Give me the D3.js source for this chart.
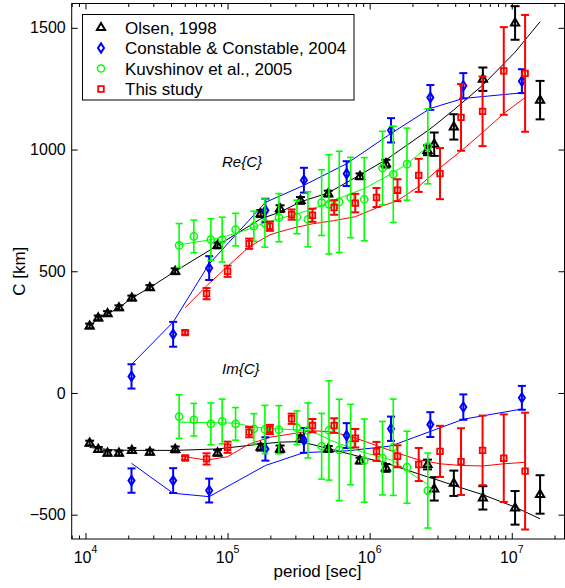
<!DOCTYPE html>
<html>
<head>
<meta charset="utf-8">
<script src="https://cdn.jsdelivr.net/npm/d3@7"></script>
<style>
  body { margin: 0; background: #fff; }
  svg { display: block; font-family: "Liberation Sans", Arial, Helvetica, sans-serif; }
</style>
</head>
<body>
<svg id="chart" width="565" height="588"></svg>
<script>
// ─── Data ───────────────────────────────────────────────────────────────────
// Olsen, 1998
const olsenPeriod = [10700, 12300, 14300, 17200, 21200, 28400, 42800, 85000, 171000, 234000,
  326000, 511000, 855000, 1302000, 2553000, 2846000, 3911000, 6259000, 10550000, 15820000];
const olsenRe = [275, 308, 326, 350, 390, 433, 500, 606, 737, 757, 791, 819, 890, 942, 997, 1022, 1093, 1289, 1520, 1203];
const olsenIm = [-206, -232, -247, -247, -236, -243, -232, -246, -223, -230, -188, -230, -278, -308, -294, -394, -371, -431, -472, -417];
const olsenErr = [10, 10, 10, 10, 10, 10, 12, 12, 14, 14, 14, 12, 12, 16, 20, 48, 52, 48, 69, 79];
const olsenModelRe = [275, 305, 325, 350, 390, 433, 500, 606, 715, 743, 785, 822, 896, 958, 1077, 1098, 1163, 1265, 1400, 1525];
const olsenModelIm = [-224, -228, -232, -235, -236, -236, -236, -230, -210, -202, -200, -228, -262, -288, -345, -353, -380, -418, -469, -517];

// Constable & Constable, 2004
const constPeriod = [21080, 41400, 74220, 184600, 344600, 688700, 1413000, 2672000, 4562000, 11780000];
const constRe = [68, 241, 513, 750, 874, 901, 1079, 1214, 1262, 1281];
const constIm = [-360, -360, -401, -230, -195, -175, -147, -130, -58, -20];
const constErr = [50, 51, 49, 48, 51, 51, 50, 51, 52, 49];
const constModelRe = [117, 291, 530, 783, 853, 942, 1066, 1169, 1210, 1233];
const constModelIm = [-289, -412, -426, -298, -245, -238, -218, -158, -108, -66];

// Kuvshinov et al., 2005
const kuvPeriod = [45620, 57900, 76280, 91620, 113900, 153200, 183100, 229800, 307600, 367700,
  459200, 517000, 610800, 734900, 916200, 1231000, 1466000, 1831000, 2566000];
const kuvRe = [606, 643, 630, 630, 671, 685, 698, 720, 723, 713, 782, 775, 785, 803, 796, 924, 898, 940, 1013];
const kuvIm = [-97, -110, -127, -117, -127, -147, -150, -151, -143, -154, -219, -154, -234, -212, -278, -268, -223, -305, -401];
const kuvErr = [90, 67, 86, 92, 67, 62, 99, 99, 69, 113, 135, 204, 208, 165, 171, 151, 198, 148, 154];
const kuvModelRe = [609, 618, 630, 640, 655, 680, 700, 716, 735, 750, 770, 785, 800, 818, 840, 880, 905, 940, 1013];
const kuvModelIm = [-120, -121, -122, -123, -124, -140, -145, -148, -152, -154, -175, -192, -208, -225, -245, -265, -278, -320, -376];

// This study
const thisPeriod = [50300, 71140, 100000, 141700, 198600, 282300, 395700, 562300, 791800, 1117000,
  1570000, 2214000, 3127000, 4395000, 6229000, 8785000, 12410000];
const thisRe = [248, 408, 500, 613, 685, 733, 730, 762, 780, 803, 833, 894, 901, 1132, 1157, 1323, 1313];
const thisIm = [-267, -271, -223, -161, -150, -106, -134, -134, -186, -240, -260, -294, -240, -282, -236, -268, -321];
const thisErr = [8, 23, 23, 21, 19, 21, 27, 30, 38, 39, 45, 68, 105, 137, 143, 180, 240];
const thisModelRe = [350, 440, 520, 600, 650, 676, 695, 708, 724, 760, 790, 848, 925, 994, 1070, 1148, 1214];
const thisModelIm = [-262, -276, -262, -210, -182, -168, -155, -161, -185, -216, -247, -275, -291, -298, -300, -291, -285];

const majorPeriods = [1e4, 1e5, 1e6, 1e7];
const yTickValues = [-500, 0, 500, 1000, 1500];

// ─── Setup ──────────────────────────────────────────────────────────────────
const W = 565, H = 588;
const plotL = 71.7, plotR = 564.5, plotT = 3.5, plotB = 539;

const svg = d3.select("#chart");
svg.append("rect").attr("width", W).attr("height", H).attr("fill", "#fff");

const x = d3.scaleLog().domain([8000, 2.35e7]).range([plotL, plotR]);
const y = d3.scaleLinear().domain([-600, 1600]).range([plotB, plotT]);

const markers = {
  triangle: "M0,-4.6L4.1,2.6L-4.1,2.6Z",
  diamond: "M0,-4.6L3,0L0,4.6L-3,0Z",
  circle: d3.symbol(d3.symbolCircle, Math.PI * 3.6 * 3.6)(),
  square: "M-2.8,-2.8H2.8V2.8H-2.8Z",
};

const series = [
  { name: "Olsen, 1998", color: "#000", marker: "triangle", sw: 2, barW: 2, cap: 4.5,
    period: olsenPeriod, re: olsenRe, im: olsenIm, err: olsenErr, mRe: olsenModelRe, mIm: olsenModelIm },
  { name: "Constable & Constable, 2004", color: "#0000ff", marker: "diamond", sw: 2, barW: 2, cap: 4,
    period: constPeriod, re: constRe, im: constIm, err: constErr, mRe: constModelRe, mIm: constModelIm },
  { name: "Kuvshinov et al., 2005", color: "#00ff00", marker: "circle", sw: 1.5, barW: 1.6, cap: 3.5,
    period: kuvPeriod, re: kuvRe, im: kuvIm, err: kuvErr, mRe: kuvModelRe, mIm: kuvModelIm },
  { name: "This study", color: "#ff0000", marker: "square", sw: 1.8, barW: 2, cap: 4,
    period: thisPeriod, re: thisRe, im: thisIm, err: thisErr, mRe: thisModelRe, mIm: thisModelIm },
];

// ─── Axes (ticks inward on all four sides) ──────────────────────────────────
const minorPeriods = x.ticks().filter(v => !majorPeriods.includes(v));

function addAxis(axis, tx, ty) {
  const g = svg.append("g").attr("transform", `translate(${tx},${ty})`).call(axis);
  g.select(".domain").remove();
  g.selectAll(".tick line").attr("stroke", "#000");
  return g;
}

addAxis(d3.axisBottom(x).tickValues(majorPeriods).tickSize(-6).tickFormat(""), 0, plotB);
addAxis(d3.axisBottom(x).tickValues(minorPeriods).tickSize(-3.5).tickFormat(""), 0, plotB);
addAxis(d3.axisTop(x).tickValues(majorPeriods).tickSize(-6).tickFormat(""), 0, plotT);
addAxis(d3.axisTop(x).tickValues(minorPeriods).tickSize(-3.5).tickFormat(""), 0, plotT);

const yAxis = addAxis(
  d3.axisLeft(y).tickValues(yTickValues).tickSize(-6).tickPadding(6).tickFormat(d3.format("d")),
  plotL, 0);
yAxis.selectAll("text").attr("font-size", 16).attr("fill", "#000")
  .attr("font-family", "'Liberation Sans', Arial, sans-serif");
addAxis(d3.axisRight(y).tickValues(yTickValues).tickSize(-6).tickFormat(""), plotR, 0);

// frame
svg.append("rect")
  .attr("x", plotL).attr("y", plotT)
  .attr("width", plotR - plotL).attr("height", plotB - plotT)
  .attr("fill", "none").attr("stroke", "#000").attr("stroke-width", 1);

// x tick labels as 10^n
majorPeriods.forEach(v => {
  const t = svg.append("text")
    .attr("x", x(v)).attr("y", 563)
    .attr("text-anchor", "middle")
    .attr("font-size", 16);
  t.append("tspan").text("10");
  t.append("tspan").attr("dy", -10).attr("font-size", 10.5).text(Math.round(Math.log10(v)));
});

svg.append("text")
  .attr("x", 317.5).attr("y", 577)
  .attr("text-anchor", "middle").attr("font-size", 17)
  .text("period [sec]");

svg.append("text")
  .attr("transform", `translate(25,${(plotT + plotB) / 2}) rotate(-90)`)
  .attr("text-anchor", "middle").attr("font-size", 17)
  .text("C [km]");

// ─── Data layers ────────────────────────────────────────────────────────────
const plot = svg.append("g");

const line = d3.line().x(d => x(d[0])).y(d => y(d[1]));

// model curves
series.forEach(s => {
  ["mRe", "mIm"].forEach(k => {
    plot.append("path")
      .datum(d3.zip(s.period, s[k]))
      .attr("d", line)
      .attr("fill", "none")
      .attr("stroke", s.color)
      .attr("stroke-width", 1);
  });
});

// error bars + markers
series.forEach(s => {
  ["re", "im"].forEach(k => {
    const pts = s.period.map((p, i) => ({ p, v: s[k][i], e: s.err[i] }));
    const g = plot.append("g")
      .attr("stroke", s.color)
      .attr("fill", "none");

    const bars = g.selectAll(".bar").data(pts).join("g").attr("class", "bar")
      .attr("stroke-width", s.barW);
    bars.append("line")
      .attr("x1", d => x(d.p)).attr("x2", d => x(d.p))
      .attr("y1", d => y(d.v - d.e)).attr("y2", d => y(d.v + d.e));
    bars.append("line")
      .attr("x1", d => x(d.p) - s.cap).attr("x2", d => x(d.p) + s.cap)
      .attr("y1", d => y(d.v - d.e)).attr("y2", d => y(d.v - d.e));
    bars.append("line")
      .attr("x1", d => x(d.p) - s.cap).attr("x2", d => x(d.p) + s.cap)
      .attr("y1", d => y(d.v + d.e)).attr("y2", d => y(d.v + d.e));

    g.selectAll(".mk").data(pts).join("path").attr("class", "mk")
      .attr("d", markers[s.marker])
      .attr("transform", d => `translate(${x(d.p)},${y(d.v)})`)
      .attr("stroke-width", s.sw);
  });
});

// panel annotations
svg.append("text").attr("x", 222).attr("y", 167)
  .attr("font-size", 15).attr("font-style", "italic").text("Re{C}");
svg.append("text").attr("x", 222).attr("y", 374)
  .attr("font-size", 15).attr("font-style", "italic").text("Im{C}");

// ─── Legend ─────────────────────────────────────────────────────────────────
const legend = svg.append("g");
legend.append("rect")
  .attr("x", 82.5).attr("y", 14.5).attr("width", 271.5).attr("height", 85.5)
  .attr("fill", "#fff").attr("stroke", "#000").attr("stroke-width", 1);

series.forEach((s, i) => {
  const cy = 27.5 + i * 20.5;
  legend.append("path")
    .attr("d", markers[s.marker])
    .attr("transform", `translate(101,${cy})`)
    .attr("fill", "none").attr("stroke", s.color).attr("stroke-width", s.sw);
  legend.append("text")
    .attr("x", 125).attr("y", cy + 6)
    .attr("font-size", 17)
    .text(s.name);
});
</script>
</body>
</html>
